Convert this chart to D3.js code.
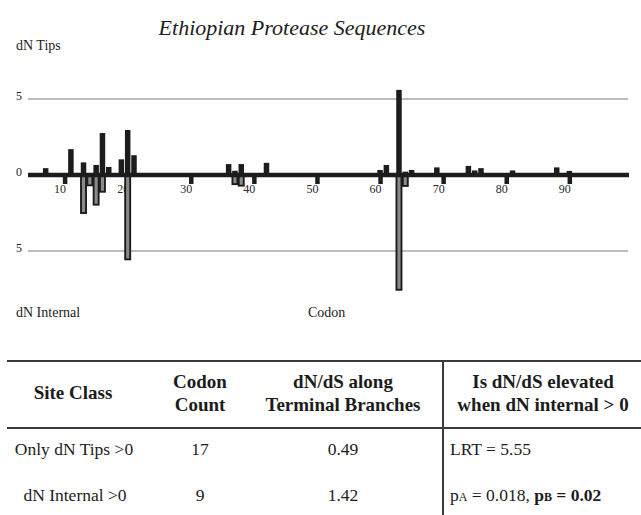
<!DOCTYPE html>
<html>
<head>
<meta charset="utf-8">
<script src="https://cdn.jsdelivr.net/npm/d3@7"></script>
<style>
  html, body { margin: 0; padding: 0; background: #fff; }
  svg { display: block; font-family: "Liberation Serif", "Times New Roman", serif; }
</style>
</head>
<body>
<script>
// ---------- data ----------
const tipCodons = [7, 11, 13, 15, 16, 17, 19, 20, 21, 36, 37, 38, 42, 60, 61, 63, 64, 65, 69, 74, 75, 76, 81, 88, 90];
const tipValues = [0.45, 1.7, 0.83, 0.66, 2.76, 0.53, 1.03, 2.96, 1.3, 0.72, 0.28, 0.72, 0.8, 0.33, 0.66, 5.6, 0.22, 0.33, 0.5, 0.6, 0.3, 0.45, 0.3, 0.5, 0.27];
const internalCodons = [13, 14, 15, 16, 20, 37, 38, 63, 64];
const internalValues = [2.5, 0.68, 1.95, 1.1, 5.55, 0.6, 0.7, 7.55, 0.72];
const tickCodons = [10, 20, 30, 40, 50, 60, 70, 80, 90];
const yGridValues = [5, -5];
const yTickLabels = ["5", "0", "5"];
const yTickValues = [5, 0, -5];

const tableHeaders = [["Site Class"], ["Codon", "Count"], ["dN/dS along", "Terminal Branches"], ["Is dN/dS elevated", "when dN internal > 0"]];
const siteClasses = ["Only dN Tips >0", "dN Internal >0"];
const codonCounts = ["17", "9"];
const dndsTerminal = ["0.49", "1.42"];

// ---------- layout ----------
const W = 641, H = 515;
const svg = d3.select("body").append("svg").attr("width", W).attr("height", H);

const x = d3.scaleLinear().domain([4.2, 99.3]).range([28, 628]);
const y = d3.scaleLinear().domain([-5, 5]).range([251, 99]);
const ink = "#1c1c1c";

// title
svg.append("text").attr("x", 292).attr("y", 35).attr("text-anchor", "middle")
  .attr("font-style", "italic").attr("font-size", 22).attr("fill", ink)
  .text("Ethiopian Protease Sequences");

svg.append("text").attr("x", 16).attr("y", 50).attr("font-size", 14).attr("fill", ink).text("dN Tips");
svg.append("text").attr("x", 16).attr("y", 317).attr("font-size", 14).attr("fill", ink).text("dN Internal");
svg.append("text").attr("x", 308).attr("y", 317).attr("font-size", 14).attr("fill", ink).text("Codon");

// gridlines
svg.selectAll("line.grid").data(yGridValues).enter().append("line")
  .attr("class", "grid")
  .attr("x1", x.range()[0]).attr("x2", x.range()[1])
  .attr("y1", d => y(d)).attr("y2", d => y(d))
  .attr("stroke", "#bdbdbd").attr("stroke-width", 2);

// y labels
svg.selectAll("text.ylab").data(yTickValues).enter().append("text")
  .attr("class", "ylab")
  .attr("x", 16).attr("y", d => y(d) + 1)
  .attr("font-size", 12).attr("fill", ink)
  .text((d, i) => yTickLabels[i]);

// x axis ticks + labels
const xAxis = d3.axisBottom(x).tickValues(tickCodons).tickSize(9).tickPadding(0).tickFormat(d3.format("d"));
const gx = svg.append("g").attr("transform", `translate(0,${y(0)})`).call(xAxis);
gx.select(".domain").remove();
gx.selectAll(".tick line").attr("stroke", ink).attr("stroke-width", 4.5);
gx.selectAll(".tick text").attr("dx", -5).attr("font-family", "Liberation Serif, serif")
  .attr("font-size", 12).attr("fill", "#2a2a2a");

// bars: dN internal (below, outlined)
const bwN = 5;
svg.selectAll("rect.internal").data(internalCodons).enter().append("rect")
  .attr("class", "internal")
  .attr("x", d => x(d) - bwN / 2)
  .attr("y", y(0))
  .attr("width", bwN)
  .attr("height", (d, i) => y(-internalValues[i]) - y(0))
  .attr("fill", "#8a8a8a").attr("stroke", ink).attr("stroke-width", 1.9);

// bars: dN tips (above, solid)
const bwP = 5.5;
svg.selectAll("rect.tip").data(tipCodons).enter().append("rect")
  .attr("class", "tip")
  .attr("x", d => x(d) - bwP / 2)
  .attr("y", (d, i) => y(tipValues[i]))
  .attr("width", bwP)
  .attr("height", (d, i) => y(0) - y(tipValues[i]))
  .attr("fill", ink);

// axis line
svg.append("line").attr("x1", x.range()[0]).attr("x2", x.range()[1] + 1)
  .attr("y1", y(0)).attr("y2", y(0))
  .attr("stroke", ink).attr("stroke-width", 4.5);

// ---------- table ----------
const lineCol = "#3a3a3a";
const colX = [73, 200, 343, 543];
const tTop = 361, tMid = 428;
svg.append("line").attr("x1", 7).attr("x2", W).attr("y1", tTop).attr("y2", tTop).attr("stroke", lineCol).attr("stroke-width", 2);
svg.append("line").attr("x1", 7).attr("x2", W).attr("y1", tMid).attr("y2", tMid).attr("stroke", lineCol).attr("stroke-width", 2);
svg.append("line").attr("x1", 443).attr("x2", 443).attr("y1", tTop).attr("y2", H).attr("stroke", lineCol).attr("stroke-width", 2);

tableHeaders.forEach((lines, ci) => {
  const baseY = lines.length === 1 ? [399] : [388, 411];
  lines.forEach((t, li) => {
    svg.append("text").attr("x", colX[ci]).attr("y", baseY[li]).attr("text-anchor", "middle")
      .attr("font-weight", "bold").attr("font-size", 19).attr("fill", ink).text(t);
  });
});

const rowY = [455, 501];
siteClasses.forEach((s, r) => {
  svg.append("text").attr("x", r === 0 ? 74 : 75).attr("y", rowY[r]).attr("text-anchor", "middle")
    .attr("font-size", 17.5).attr("fill", ink).text(s);
  svg.append("text").attr("x", colX[1]).attr("y", rowY[r]).attr("text-anchor", "middle")
    .attr("font-size", 17.5).attr("fill", ink).text(codonCounts[r]);
  svg.append("text").attr("x", colX[2]).attr("y", rowY[r]).attr("text-anchor", "middle")
    .attr("font-size", 17.5).attr("fill", ink).text(dndsTerminal[r]);
});

svg.append("text").attr("x", 450).attr("y", rowY[0]).attr("font-size", 17.5).attr("fill", ink).text("LRT = 5.55");

const t2 = svg.append("text").attr("x", 450).attr("y", rowY[1]).attr("font-size", 17.5).attr("fill", ink);
t2.append("tspan").text("p");
t2.append("tspan").attr("font-size", 12).text("A");
t2.append("tspan").text(" = 0.018, ");
t2.append("tspan").attr("font-weight", "bold").text("p");
t2.append("tspan").attr("font-weight", "bold").attr("font-size", 12).text("B");
t2.append("tspan").attr("font-weight", "bold").text(" = 0.02");
</script>
</body>
</html>
